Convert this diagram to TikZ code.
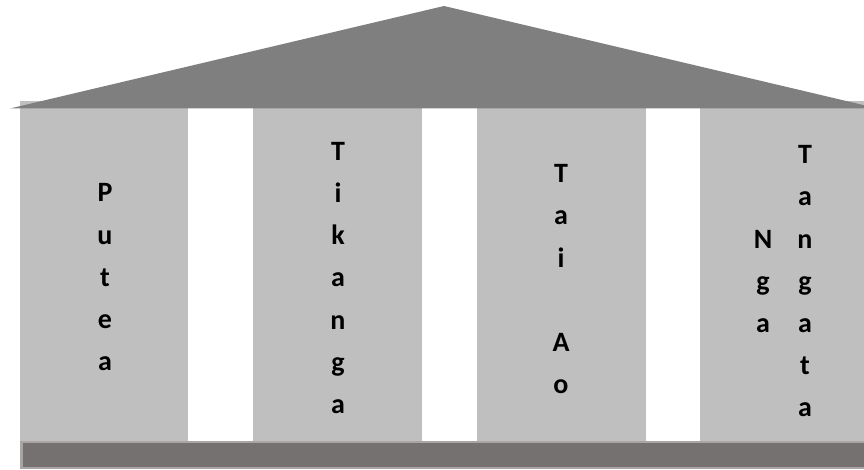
\documentclass[tikz,border=0pt]{standalone}
\usepackage{fontspec}
\setmainfont{Carlito}
\definecolor{pillargray}{HTML}{BFBFBF}
\definecolor{roofgray}{HTML}{7F7F7F}
\definecolor{basegray}{HTML}{767171}
\definecolor{baseedge}{HTML}{A8A5A4}
\begin{document}
\begin{tikzpicture}[x=1pt,y=-1pt,
  pillar/.style={fill=pillargray,draw=none},
  letter/.style={anchor=base,inner sep=0pt,font=\fontsize{28}{33}\selectfont\bfseries,text=black}]
\useasboundingbox (0,0) rectangle (864,470);
\clip (0,0) rectangle (864,470);

% pillars
\path[pillar] (20,101) rectangle (188,441);
\path[pillar] (253,101) rectangle (422,441);
\path[pillar] (477,101) rectangle (646,441);
\path[pillar] (700,101) rectangle (870,441);

% roof
\fill[roofgray] (10,108.5) -- (444,6) -- (878,108.5) -- cycle;

% base slab
\filldraw[fill=basegray,draw=baseedge,line width=2.5pt] (21.5,442.2) rectangle (868,468.2);

% words written downwards, one letter per line
\foreach \ch [count=\i] in {P,u,t,e,a}
  \node[letter] (putea-\i) at ({105},{202+42*(\i-1)}) {\ch};
\foreach \ch [count=\i] in {T,i,k,a,n,g,a}
  \node[letter] (tikanga-\i) at ({338},{161+42*(\i-1)}) {\ch};
\foreach \ch/\k in {T/0,a/1,i/2,A/4,o/5}
  \node[letter] (taiao-\k) at ({561},{183+42*\k}) {\ch};
\foreach \ch [count=\i] in {N,g,a}
  \node[letter] (nga-\i) at ({763},{248+42*(\i-1)}) {\ch};
\foreach \ch [count=\i] in {T,a,n,g,a,t,a}
  \node[letter] (tangata-\i) at ({805},{164+42*(\i-1)}) {\ch};
\end{tikzpicture}
\end{document}
